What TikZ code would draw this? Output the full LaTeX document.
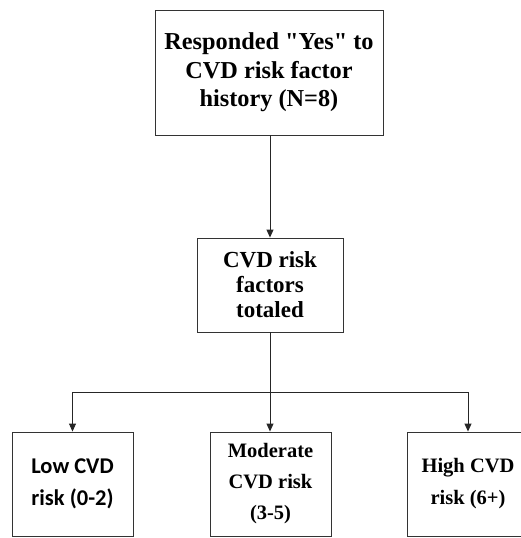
\documentclass[tikz,border=0pt]{standalone}
\usepackage{fontspec}
\setmainfont{Liberation Serif}
\newfontfamily\qfont{Liberation Serif}
\newfontfamily\calib{Carlito}
\usetikzlibrary{arrows.meta}
\newcommand{\sq}{{\qfont\bfseries "}}
\begin{document}
\begin{tikzpicture}[x=1pt,y=-1pt,
  box/.style={draw=black!80,line width=0.9pt,rectangle,align=center,font=\bfseries,inner sep=0pt},
  conn/.style={draw=black!85,line width=0.9pt},
  arr/.style={conn,-{Triangle[length=8pt,width=7pt]}}]
\useasboundingbox (0,0) rectangle (521,538);
\clip (0,0) rectangle (521,538);
\node[box,minimum width=228pt,minimum height=125pt,font=\bfseries\fontsize{24.3}{28.5}\selectfont] (top) at (269,72.5) {Responded \sq Yes\sq{} to\\CVD risk factor\\history (N=8)};
\node[box,minimum width=146pt,minimum height=94pt,font=\bfseries\fontsize{23}{25}\selectfont] (mid) at (270,285) {CVD risk\\factors\\totaled};
\node[box,minimum width=121pt,minimum height=104pt,font=\calib\bfseries\fontsize{22.5}{32}\selectfont] (low) at (72.5,484) {Low CVD\\risk (0-2)};
\node[box,minimum width=121pt,minimum height=104pt,font=\bfseries\fontsize{20.5}{31}\selectfont] (mod) at (270.5,484) {Moderate\\CVD risk\\(3-5)};
\node[box,minimum width=121pt,minimum height=104pt,font=\bfseries\fontsize{20.5}{32}\selectfont] (high) at (468,484) {High CVD\\risk (6+)};
\coordinate (j) at (270,392);
\draw[arr] (top.south -| mid.north) -- (mid.north);
\draw[conn] (mid.south) -- (j);
\draw[conn] (low.north |- j) -- (high.north |- j);
\draw[arr] (j) -- (mod.north -| j);
\draw[arr] (low.north |- j) -- (low.north);
\draw[arr] (high.north |- j) -- (high.north);
\end{tikzpicture}
\end{document}
